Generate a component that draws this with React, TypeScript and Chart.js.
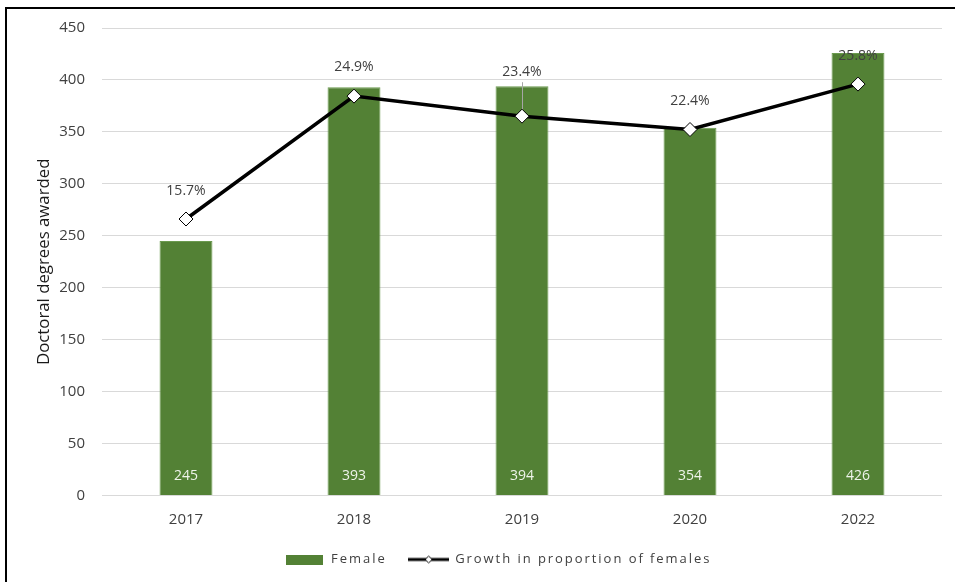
import React, { useEffect, useRef } from "react";
import { Chart, registerables } from "chart.js";

Chart.register(...registerables);

const categories = ["2017", "2018", "2019", "2020", "2022"];
const femaleValues = [245, 393, 394, 354, 426];
const growthPercent = [15.7, 24.9, 23.4, 22.4, 25.8];
const yTicks = [0, 50, 100, 150, 200, 250, 300, 350, 400, 450];
const percentLabelOffsets = [28, 29, 44, 28, 28];
const leaderLineIndex = [2];

const FONT = "'Open Sans', sans-serif";
const TEXT = "#404040";
const GREEN = "#538135";

function makeBarSwatch() {
  const c = document.createElement("canvas");
  c.width = 37;
  c.height = 10;
  const x = c.getContext("2d")!;
  x.fillStyle = GREEN;
  x.fillRect(0, 0, 37, 10);
  return c;
}

function makeLineSwatch() {
  const c = document.createElement("canvas");
  c.width = 41;
  c.height = 10;
  const x = c.getContext("2d")!;
  x.strokeStyle = "#000";
  x.lineWidth = 3;
  x.beginPath();
  x.moveTo(0, 5);
  x.lineTo(41, 5);
  x.stroke();
  x.fillStyle = "#fff";
  x.lineWidth = 1;
  x.beginPath();
  x.moveTo(20.5, 1.5);
  x.lineTo(24, 5);
  x.lineTo(20.5, 8.5);
  x.lineTo(17, 5);
  x.closePath();
  x.fill();
  x.stroke();
  return c;
}

const labelsPlugin = {
  id: "valueLabels",
  afterDatasetsDraw(chart: any) {
    const ctx = chart.ctx;
    const barMeta = chart.getDatasetMeta(0);
    const lineMeta = chart.getDatasetMeta(1);
    ctx.save();
    ctx.font = `14px ${FONT}`;
    ctx.textAlign = "center";
    ctx.textBaseline = "middle";
    ctx.fillStyle = "#eef3ea";
    barMeta.data.forEach((bar: any, i: number) => {
      ctx.fillText(String(femaleValues[i]), bar.x, bar.base - 19);
    });
    ctx.fillStyle = TEXT;
    lineMeta.data.forEach((pt: any, i: number) => {
      const off = percentLabelOffsets[i];
      if (leaderLineIndex.includes(i)) {
        ctx.save();
        ctx.strokeStyle = "#a6a6a6";
        ctx.lineWidth = 1;
        ctx.beginPath();
        ctx.moveTo(pt.x + 0.5, pt.y - off + 10);
        ctx.lineTo(pt.x + 0.5, pt.y - 7);
        ctx.stroke();
        ctx.restore();
      }
      ctx.fillText(growthPercent[i].toFixed(1) + "%", pt.x, pt.y - off);
    });
    ctx.restore();
  },
};

export default function App() {
  const ref = useRef<HTMLCanvasElement>(null);

  useEffect(() => {
    const barSwatch = makeBarSwatch();
    const lineSwatch = makeLineSwatch();
    const chart = new Chart(ref.current!, {
      type: "bar",
      data: {
        labels: categories,
        datasets: [
          {
            type: "bar",
            label: "Female",
            data: femaleValues,
            backgroundColor: GREEN,
            borderColor: "#6b9a4f",
            borderWidth: 1,
            barPercentage: 0.315,
            categoryPercentage: 1,
            yAxisID: "y",
            order: 2,
          },
          {
            type: "line",
            label: "Growth in proportion of females",
            data: growthPercent,
            borderColor: "#000",
            borderWidth: 3.5,
            pointStyle: "rectRot",
            pointRadius: 7,
            pointBackgroundColor: "#fff",
            pointBorderColor: "#000",
            pointBorderWidth: 1,
            tension: 0,
            yAxisID: "y1",
            order: 1,
          } as any,
        ],
      },
      options: {
        animation: false,
        responsive: false,
        maintainAspectRatio: false,
        layout: { padding: { top: 28, right: 13, left: 0, bottom: 6 } },
        scales: {
          x: {
            grid: { display: false, drawTicks: false },
            border: { display: false },
            ticks: { color: TEXT, font: { family: FONT, size: 15 }, padding: 15 },
            afterFit(scale: any) {
              scale.height = 35.5;
            },
          },
          y: {
            min: 0,
            max: 450,
            afterBuildTicks(scale: any) {
              scale.ticks = yTicks.map((v) => ({ value: v }));
            },
            grid: { color: "#d9d9d9", drawTicks: false, lineWidth: 1 },
            border: { display: false },
            ticks: { color: TEXT, font: { family: FONT, size: 15 }, padding: 17 },
            title: {
              display: true,
              text: "Doctoral degrees awarded",
              color: "#1a1a1a",
              font: { family: FONT, size: 16.8 },
              padding: { top: 34, bottom: 0 },
            },
            afterFit(scale: any) {
              scale.width = 102;
            },
          },
          y1: {
            display: false,
            min: -5,
            max: 30,
            position: "right",
            grid: { display: false },
          },
        },
        plugins: {
          legend: {
            position: "bottom",
            labels: {
              usePointStyle: true,
              pointStyleWidth: 40,
              color: TEXT,
              font: { family: FONT, size: 13 },
              padding: 22,
              generateLabels(chart: any) {
                return chart.data.datasets.map((ds: any, i: number) => ({
                  text: ds.label,
                  datasetIndex: i,
                  pointStyle: i === 0 ? barSwatch : lineSwatch,
                  fontColor: TEXT,
                  hidden: false,
                  lineWidth: 0,
                  strokeStyle: "transparent",
                  fillStyle: "transparent",
                }));
              },
            },
          },
          tooltip: { enabled: false },
        },
      },
      plugins: [labelsPlugin],
    });

    const legend: any = (chart as any).legend;
    if (legend) {
      const origFit = legend.fit;
      const origDraw = legend.draw;
      legend.fit = function (...args: any[]) {
        const c: any = this.ctx;
        const prev = c.letterSpacing;
        c.letterSpacing = "1.95px";
        try {
          return origFit.apply(this, args);
        } finally {
          c.letterSpacing = prev ?? "0px";
        }
      };
      legend.draw = function (...args: any[]) {
        const c: any = this.ctx;
        c.save();
        c.letterSpacing = "1.95px";
        c.translate(27, 0);
        try {
          return origDraw.apply(this, args);
        } finally {
          c.restore();
        }
      };
      chart.update();
    }

    return () => chart.destroy();
  }, []);

  return (
    <div style={{ position: "absolute", left: 0, top: 0, width: 955, height: 582, background: "#fff", overflow: "hidden" }}>
      <div style={{ position: "absolute", left: 5, top: 7, right: 0, bottom: 0, borderTop: "2px solid #000", borderLeft: "2px solid #000" }} />
      <canvas ref={ref} width={955} height={582} style={{ position: "absolute", left: 0, top: 0, width: 955, height: 582 }} />
    </div>
  );
}
